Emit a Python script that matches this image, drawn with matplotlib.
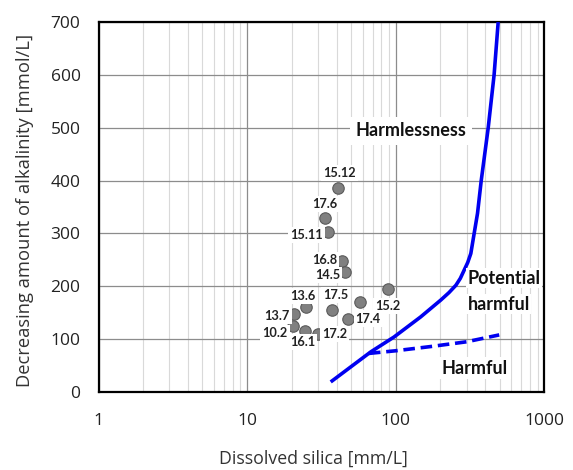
import matplotlib
matplotlib.use('Agg')
import matplotlib.pyplot as plt
from matplotlib.ticker import LogLocator, NullFormatter, FixedLocator
import numpy as np

# sample results: dissolved silica (x) vs. reduction in alkalinity (y)
silica = [41.1, 33.5, 35.2, 43.5, 45.8, 89.2, 37.1, 57.8, 24.9, 20.7, 20.5, 24.6, 30.2, 47.7]
alkalinity = [386, 329, 303, 248, 227, 194, 156, 170, 161, 147, 124, 116, 110, 138]

# label text and where it sits (data coords); None = unlabeled point
labels = ['15.12', '17.6', '15.11', '16.8', '14.5', '15.2', '17.5', None,
          '13.6', '13.7', '10.2', '16.1', '17.2', '17.4']
label_x = [41.6, 33.1, 25.0, 33.3, 34.7, 88.7, 39.5, None, 23.8, 15.9, 15.4, 23.5, 38.8, 65.2]
label_y = [415, 355, 297, 250, 222, 163, 184, None, 182, 144, 112, 95, 110, 139]

# boundary curve between harmless / potentially harmful / harmful zones
curve_x = [36.5, 68, 97.3, 147, 201, 228, 254, 272, 288, 305, 320, 337, 355, 376, 419, 459, 489]
curve_y = [19, 76, 104, 142, 174, 188, 202, 215, 230, 245, 262, 300, 338, 400, 500, 600, 700]
dash_x = [66, 100, 172, 300, 497]
dash_y = [73, 78, 86, 95, 108]

fig = plt.figure(figsize=(5.73, 4.70), dpi=100)
ax = fig.add_axes([0.172, 0.166, 0.778, 0.787])

ax.set_xscale('log')
ax.set_xlim(1, 1000)
ax.set_ylim(0, 700)
ax.xaxis.set_major_locator(FixedLocator([1, 10, 100, 1000]))
ax.xaxis.set_major_formatter(plt.FuncFormatter(lambda v, p: '%g' % v))
ax.xaxis.set_minor_locator(LogLocator(base=10, subs=np.arange(2, 10)))
ax.xaxis.set_minor_formatter(NullFormatter())
ax.set_yticks(range(0, 701, 100))

ax.grid(True, which='major', color='#8c8c8c', linewidth=0.9)
ax.grid(True, which='minor', axis='x', color='#d9d9d9', linewidth=0.8)
ax.set_axisbelow(True)

for s in ax.spines.values():
    s.set_linewidth(1.6)
    s.set_color('black')

ax.tick_params(which='both', length=0)
ax.tick_params(axis='x', pad=15)
ax.tick_params(axis='y', pad=13)
for t in ax.get_xticklabels() + ax.get_yticklabels():
    t.set_fontfamily('Open Sans')
    t.set_fontsize(12.5)
    t.set_color('#222222')

ax.set_xlabel('Dissolved silica [mm/L]', fontfamily='Open Sans', fontsize=12.8,
              color='#333333')
ax.set_ylabel('Decreasing amount of alkalinity [mmol/L]', fontfamily='Open Sans',
              fontsize=13.2, color='#333333')
ax.xaxis.set_label_coords(0.483, -0.155)
ax.yaxis.set_label_coords(-0.145, 0.49)

ax.plot(curve_x, curve_y, color='#0000f0', linewidth=2.6, solid_capstyle='butt',
        solid_joinstyle='round', zorder=3)
ax.plot(dash_x, dash_y, color='#0000f0', linewidth=2.6, dashes=(3.2, 1.6), zorder=3)

ax.scatter(silica, alkalinity, s=68, color='#808080', edgecolor='#5a5a5a',
           linewidth=0.8, zorder=4)

for lab, lx, ly in zip(labels, label_x, label_y):
    if lab is None:
        continue
    ax.text(lx, ly, lab, fontsize=9.2, fontweight='bold', fontfamily='Lato',
            color='#222222', ha='center', va='center', zorder=5,
            bbox=dict(facecolor='white', edgecolor='none', pad=1.5))

zone_font = dict(fontsize=13, fontweight='bold', fontfamily='Lato', color='#111111', zorder=5)
ax.text(126, 494, 'Harmlessness', ha='center', va='center',
        bbox=dict(facecolor='white', edgecolor='none', pad=4), **zone_font)
ax.text(305, 215, 'Potential', ha='left', va='center',
        bbox=dict(facecolor='white', edgecolor='none', pad=1), **zone_font)
ax.text(305, 166, 'harmful', ha='left', va='center',
        bbox=dict(facecolor='white', edgecolor='none', pad=1), **zone_font)
ax.text(341, 45, 'Harmful', ha='center', va='center',
        bbox=dict(facecolor='white', edgecolor='none', pad=2), **zone_font)

plt.savefig('out.png', dpi=100)
